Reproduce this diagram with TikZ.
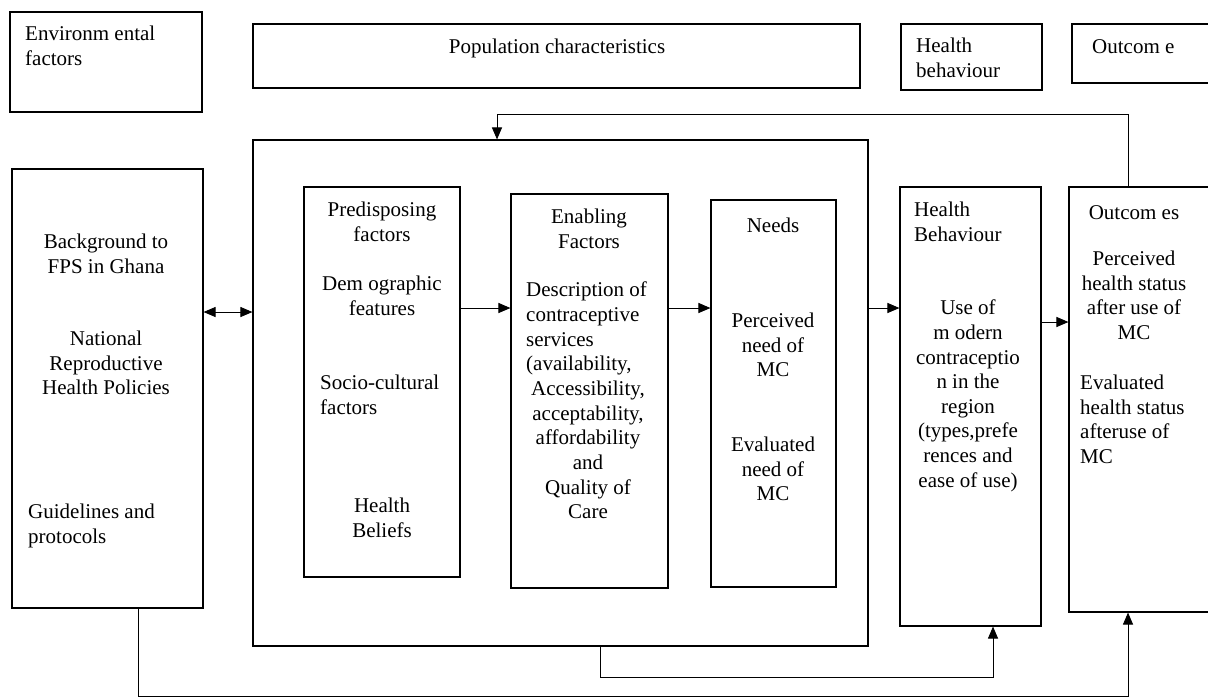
\documentclass[tikz,border=0pt]{standalone}
\usepackage{fontspec}
\setmainfont{Liberation Serif}
\usetikzlibrary{arrows.meta,fit}
\tikzset{
 box/.style={draw, line width=1.1pt, inner sep=0pt},
 txt/.style={font=\fontsize{21}{24.6}\selectfont, inner sep=0pt, yshift=-4pt, execute at begin node=\strut},
 ctxt/.style={txt, align=center, anchor=north},
 ltxt/.style={txt, align=left, anchor=north west},
 arr/.style={line width=1pt, -{Triangle[length=12pt,width=10pt]}},
 dbl/.style={line width=1pt, {Triangle[length=12pt,width=10pt]}-{Triangle[length=12pt,width=10pt]}},
}
\begin{document}
\begin{tikzpicture}[x=1pt,y=-1pt]
\useasboundingbox[fill=white] (0,0) rectangle (1208,697);
% header boxes
\node[box, fit={(10,12) (202,112)}] (env) {};
\node[box, fit={(253,24) (860,88)}] (pop) {};
\node[box, fit={(901,24) (1042,90)}] (hbtop) {};
\node[box, fit={(1072,24) (1216,83)}] (outtop) {};
% main boxes
\node[box, fit={(12,169) (203,608)}] (left) {};
\node[box, fit={(253,140) (868,646)}] (frame) {};
\node[box, fit={(304,187) (460,577)}] (pre) {};
\node[box, fit={(511,194) (668,588)}] (ena) {};
\node[box, fit={(711,200) (836,587)}] (needs) {};
\node[box, fit={(900,187) (1041,626)}] (hb) {};
\node[box, fit={(1069,187) (1216,612)}] (outc) {};
% header texts
\node[ltxt] (tenv) at (25,22) {Environm ental\\factors};
\node[ctxt] (tpop) at (557,32) {Population characteristics};
\node[ltxt] (thbtop) at (916,34) {Health\\behaviour};
\node[ltxt] (touttop) at (1092,32) {Outcom e};
% left box texts
\node[ctxt] (tbg) at (106,230) {Background to\\FPS in Ghana};
\node[ctxt] (tnat) at (106,327) {National\\Reproductive\\Health Policies};
\node[ltxt] (tgui) at (28,500) {Guidelines and\\protocols};
% predisposing
\node[ctxt] (tpre) at (382,198) {Predisposing\\factors};
\node[ctxt] (tdem) at (382,272) {Dem ographic\\features};
\node[ltxt] (tsoc) at (320,371) {Socio-cultural\\factors};
\node[ctxt] (tbel) at (382,494) {Health\\Beliefs};
% enabling
\node[ctxt] (tena) at (589,205) {Enabling\\Factors};
\node[ltxt] (tdesc) at (526,278) {Description of\\contraceptive\\services\\(availability,};
\node[ctxt] (tacc) at (588,377) {Accessibility,\\acceptability,\\affordability\\and\\Quality of\\Care};
% needs
\node[ctxt] (tneeds) at (773,211) {Needs};
\node[ctxt] (tperc) at (773,309) {Perceived\\need of\\MC};
\node[ctxt] (teval) at (773,433) {Evaluated\\need of\\MC};
% health behaviour
\node[ltxt] (thb) at (914,198) {Health\\Behaviour};
\node[ctxt] (tuse) at (968,296) {Use of\\m odern\\contraceptio\\n in the\\region\\(types,prefe\\rences and\\ease of use)};
% outcomes
\node[ctxt] (tout) at (1134,198) {Outcom es};
\node[ctxt] (tphs) at (1134,247) {Perceived\\health status\\after use of\\MC};
\node[ltxt] (tehs) at (1080,371) {Evaluated\\health status\\afteruse of\\MC};
% connectors
\draw[dbl] (left.east |- 0,312) -- (frame.west |- 0,312);
\draw[arr] (pre.east |- 0,308) -- (ena.west |- 0,308);
\draw[arr] (ena.east |- 0,308) -- (needs.west |- 0,308);
\draw[arr] (frame.east |- 0,308) -- (hb.west |- 0,308);
\draw[arr] (hb.east |- 0,322) -- (outc.west |- 0,322);
\draw[arr] (outc.north -| 1128,0) |- (497,114) -- (frame.north -| 497,0);
\draw[arr] (frame.south -| 600,0) |- (993,677) -- (hb.south -| 993,0);
\draw[arr] (left.south -| 138,0) |- (1128,696) -- (outc.south -| 1128,0);
\end{tikzpicture}
\end{document}
